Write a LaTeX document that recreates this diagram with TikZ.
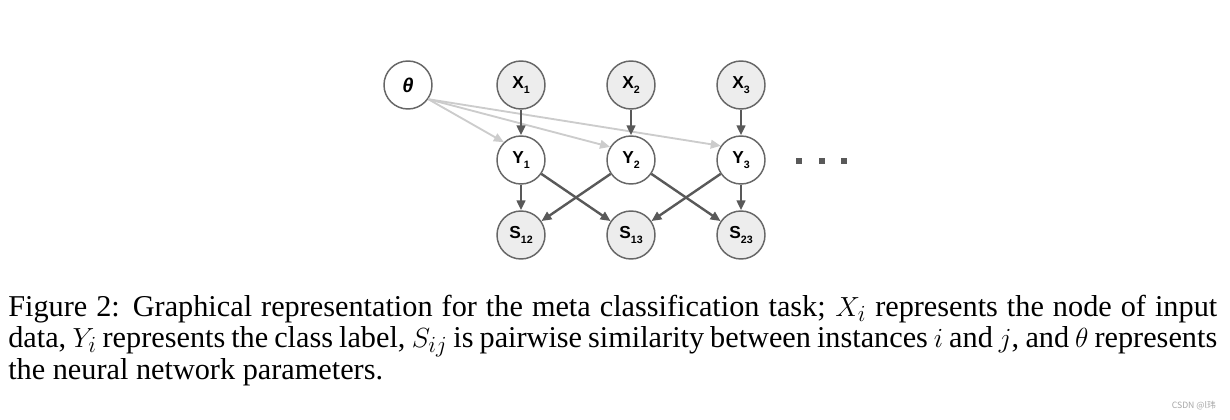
\documentclass[tikz,border=0pt]{standalone}
\usepackage{fontspec}
\setmainfont{Liberation Serif}
\setsansfont{Liberation Sans}
\newfontfamily\cjk{Noto Sans CJK SC}
\usetikzlibrary{arrows.meta}
\newcommand\varlab[2]{#1\raisebox{-0.5ex}{\fontsize{8}{8}\selectfont#2}}

\begin{document}
\begin{tikzpicture}[x=0.75pt, y=-0.75pt,
		var/.style={circle, draw=black!60, line width=1.1pt, fill=white, minimum size=36pt, inner sep=0pt, font=\sffamily\bfseries\fontsize{13}{13}\selectfont},
		obs/.style={var, fill=black!7},
		edge/.style={-{Triangle[length=7.5pt, width=6.5pt]}, draw=black!65, fill=black!65, line width=1.8pt},
		prior/.style={edge, draw=black!20, fill=black!20, line width=1.4pt}]
			%%%%% START %%%%%
			
			\useasboundingbox (0, 0) rectangle (1230, 420);
			
			\node[var] (th) at (408, 85) {\itshape\fontsize{15}{15}\selectfont θ};
			
			\node[obs] (x1) at (521, 85) {\varlab{X}{1}};
			\node[obs] (x2) at (631, 85) {\varlab{X}{2}};
			\node[obs] (x3) at (741, 85) {\varlab{X}{3}};
			
			\node[var] (y1) at (521, 160) {\varlab{Y}{1}};
			\node[var] (y2) at (631, 160) {\varlab{Y}{2}};
			\node[var] (y3) at (741, 160) {\varlab{Y}{3}};
			
			\node[obs] (s12) at (521, 235) {\varlab{S}{12}};
			\node[obs] (s13) at (631, 235) {\varlab{S}{13}};
			\node[obs] (s23) at (741, 235) {\varlab{S}{23}};
			
			\draw[prior] (th.-35) -- (y1.134);
			\draw[prior] (th.-35) -- (y2.148);
			\draw[prior] (th.-35) -- (y3.145);
			
			\draw[edge] (x1) -- (y1);
			\draw[edge] (x2) -- (y2);
			\draw[edge] (x3) -- (y3);
			
			\draw[edge] (y1) -- (s12);
			\draw[edge] (y1) -- (s13);
			\draw[edge] (y2) -- (s12);
			\draw[edge] (y2) -- (s23);
			\draw[edge] (y3) -- (s13);
			\draw[edge] (y3) -- (s23);
			
			\foreach \dx in {799, 822, 844}
				\fill[black!65] (\dx-3, 158) rectangle (\dx+3, 164);
			
			\node[anchor=base west, inner sep=0pt, text width=906.75pt, align=justify, font=\fontsize{22.7}{23.25}\selectfont] (cap) at (8, 316)
				{Figure 2: Graphical representation for the meta classification task; $X_i$ represents the node of input\linebreak data, $Y_i$ represents the class label, $S_{ij}$ is pairwise similarity between instances $i$ and $j$, and $\theta$ represents\linebreak the neural network parameters.};
			
			\node[anchor=east, inner sep=0pt, text=black!35, font=\cjk\fontsize{6.5}{6.5}\selectfont] (mark) at (1216, 406) {CSDN @l玮};
			
			%%%%% END %%%%%
		\end{tikzpicture}
\end{document}
